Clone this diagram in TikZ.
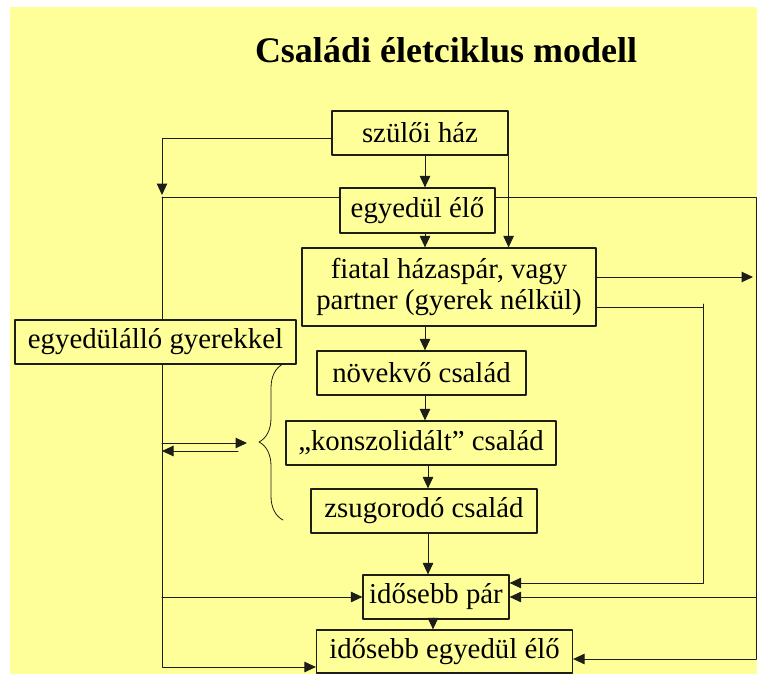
\documentclass[tikz,border=0pt]{standalone}
\usepackage{fontspec}
\setmainfont{Liberation Serif}
\usepackage{tikz}
\usetikzlibrary{arrows.meta}
\usetikzlibrary{decorations.pathreplacing}
\definecolor{lapsarga}{RGB}{255,255,153}
\definecolor{vonal}{RGB}{30,30,25}
\tikzstyle{box} = [draw=vonal, line width=1.2pt, fill=lapsarga, inner sep=0pt, minimum height=44pt, align=center, font=\fontsize{28.8}{31}\selectfont]
\tikzstyle{conn} = [draw=vonal, line width=1pt]
\tikzstyle{arrow} = [conn, -{Triangle[length=11.5pt,width=10.5pt]}]

\begin{document}
\begin{tikzpicture}[x=1pt, y=-1pt, line cap=round, line join=round, >=Triangle]
  \fill[white] (0,0) rectangle (757,674);
  \fill[lapsarga] (10,7) rectangle (757,674);
  \node[anchor=base, inner sep=0pt, font=\bfseries\fontsize{36}{40}\selectfont] (cim) at (446,63) {Családi életciklus modell};
  % dobozok
  \node[box, minimum width=176pt] (szulo) at (420,133) {szülői ház};
  \node[box, minimum width=155pt, minimum height=45pt] (egyedul) at (417.5,210.5) {egyedül élő};
  \node[box, minimum width=294pt, minimum height=78pt] (fiatal) at (449,287) {fiatal házaspár, vagy\\partner (gyerek nélkül)};
  \node[box, minimum width=281pt] (egyedulallo) at (155.5,342) {egyedülálló gyerekkel};
  \node[box, minimum width=209pt] (novekvo) at (421.5,373) {növekvő család};
  \node[box, minimum width=270pt] (konszol) at (421,443) {„konszolidált” család};
  \node[box, minimum width=226pt] (zsugor) at (424,511) {zsugorodó család};
  \node[box, minimum width=146pt] (idpar) at (436,597) {idősebb pár};
  \node[box, minimum width=256pt, minimum height=43pt] (idegy) at (444.5,651.5) {idősebb egyedül élő};
  % segedpontok
  \coordinate (bal) at (162,197);
  \coordinate (jobb) at (756,197);
  \coordinate (jobbalso) at (756,659);
  \coordinate (kozep) at (703,307);
  \coordinate (kimenet) at (753,277);
  \coordinate (kapocs) at (259,443);
  \coordinate (tengely) at (425,0);
  \coordinate (tengelyb) at (428,0);
  \coordinate (tengelyc) at (433,0);
  \coordinate (dupla) at (bal |- konszol.west);
  % bal oldal
  \draw[arrow] ([yshift=-5pt]szulo.west) -| ([yshift=2pt]bal);
  \draw[conn] (bal) -- (bal -| egyedul.west);
  \draw[conn] (bal) -- (bal |- egyedulallo.north);
  \draw[arrow] (bal |- egyedulallo.south) |- ([yshift=-15.5pt]idegy.west);
  \draw[arrow] (bal |- idpar.west) -- (idpar.west);
  \draw[arrow] (dupla) -- ([xshift=-12pt]kapocs);
  \draw[arrow] ([xshift=-21pt,yshift=-8pt]kapocs) -- ([yshift=-8pt]dupla);
  \draw[conn, line width=0.8pt, decorate, decoration={brace, amplitude=24pt}] (283,520) -- (283,364);
  % fo ag
  \draw[arrow] (tengely |- szulo.south) -- (tengely |- egyedul.north);
  \draw[arrow] (szulo.south east) -- (szulo.south east |- fiatal.north);
  \draw[arrow] (tengely |- egyedul.south) -- (tengely |- fiatal.north);
  \draw[arrow] (tengely |- fiatal.south) -- (tengely |- novekvo.north);
  \draw[arrow] (tengely |- novekvo.south) -- (tengely |- konszol.north);
  \draw[arrow] (tengelyb |- konszol.south) -- (tengelyb |- zsugor.north);
  \draw[arrow] (tengelyb |- zsugor.south) -- (tengelyb |- idpar.north);
  \draw[arrow] (tengelyc |- idpar.south) -- (tengelyc |- idegy.north);
  % jobb oldal
  \draw[arrow] (fiatal.east |- kimenet) -- (kimenet);
  \draw[conn] (fiatal.east |- kozep) -- (kozep);
  \draw[arrow] ([yshift=3pt]kozep) |- ([yshift=14pt]idpar.east);
  \draw[conn] (bal -| egyedul.east) -- (jobb) -- (jobbalso);
  \draw[arrow] (jobb |- idpar.east) -- (idpar.east);
  \draw[arrow] (jobbalso) -- (jobbalso -| idegy.east);
\end{tikzpicture}
\end{document}
